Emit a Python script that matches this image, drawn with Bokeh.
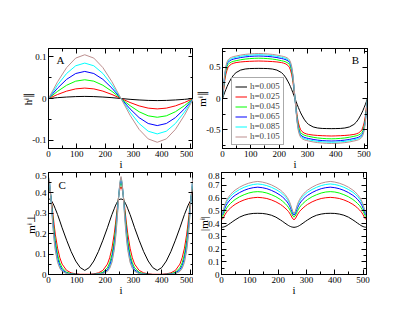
from bokeh.plotting import figure
from bokeh.layouts import column, row
from bokeh.models import LinearAxis, FixedTicker, Range1d, Label, Legend, LegendItem
from bokeh.embed import file_html
from bokeh.resources import INLINE

FONT = "Liberation Serif"
COLORS = ["#000000", "#ff0000", "#00ff00", "#0000ff", "#00ffff", "#bc8f8f"]
H_LABELS = ["h=0.005", "h=0.025", "h=0.045", "h=0.065", "h=0.085", "h=0.105"]

# ---------------- panel A: h^i_|| ----------------
i_a = [0, 32, 64, 96, 128, 160, 192, 224, 256, 288, 320, 352, 384, 416, 448, 480, 512]
a_black = [0, 0.002, 0.0035, 0.0046, 0.005, 0.0046, 0.0035, 0.002, 0, -0.002, -0.0035, -0.0046, -0.005, -0.0046, -0.0035, -0.002, 0]
a_red = [0, 0.0096, 0.0177, 0.0231, 0.025, 0.0231, 0.0177, 0.0096, 0, -0.0096, -0.0177, -0.0231, -0.025, -0.0231, -0.0177, -0.0096, 0]
a_green = [0, 0.0172, 0.0318, 0.0416, 0.045, 0.0416, 0.0318, 0.0172, 0, -0.0172, -0.0318, -0.0416, -0.045, -0.0416, -0.0318, -0.0172, 0]
a_blue = [0, 0.0249, 0.046, 0.060, 0.065, 0.060, 0.046, 0.0249, 0, -0.0249, -0.046, -0.060, -0.065, -0.060, -0.046, -0.0249, 0]
a_cyan = [0, 0.0325, 0.0601, 0.0785, 0.085, 0.0785, 0.0601, 0.0325, 0, -0.0325, -0.0601, -0.0785, -0.085, -0.0785, -0.0601, -0.0325, 0]
a_brown = [0, 0.0402, 0.0742, 0.097, 0.105, 0.097, 0.0742, 0.0402, 0, -0.0402, -0.0742, -0.097, -0.105, -0.097, -0.0742, -0.0402, 0]

# ---------------- site index for panels B, C, D ----------------
i_w = [0, 4, 8, 12, 16, 20, 24, 32, 40, 48, 64, 80, 96, 112, 128,
       144, 160, 176, 192, 208, 216, 224, 232, 236, 240, 244, 248, 252,
       256,
       260, 264, 268, 272, 276, 280, 288, 296, 304, 320, 336, 352, 368, 384,
       400, 416, 432, 448, 464, 472, 480, 488, 492, 496, 500, 504, 508, 512]

# ---------------- panel B: m^i_|| ----------------
b_black = [0, 0.050, 0.100, 0.145, 0.190, 0.230, 0.265, 0.330, 0.380, 0.415, 0.455, 0.472, 0.479, 0.481, 0.482,
           0.481, 0.479, 0.472, 0.455, 0.415, 0.380, 0.330, 0.265, 0.230, 0.190, 0.145, 0.100, 0.050,
           0,
           -0.050, -0.100, -0.145, -0.190, -0.230, -0.265, -0.330, -0.380, -0.415, -0.455, -0.472, -0.479, -0.481, -0.482,
           -0.481, -0.479, -0.472, -0.455, -0.415, -0.380, -0.330, -0.265, -0.230, -0.190, -0.145, -0.100, -0.050, 0]
b_red = [0, 0.140, 0.290, 0.390, 0.455, 0.500, 0.525, 0.552, 0.566, 0.575, 0.585, 0.591, 0.595, 0.598, 0.600,
         0.598, 0.595, 0.591, 0.585, 0.575, 0.566, 0.552, 0.525, 0.500, 0.455, 0.390, 0.290, 0.140,
         0,
         -0.140, -0.290, -0.390, -0.455, -0.500, -0.525, -0.552, -0.566, -0.575, -0.585, -0.591, -0.595, -0.598, -0.600,
         -0.598, -0.595, -0.591, -0.585, -0.575, -0.566, -0.552, -0.525, -0.500, -0.455, -0.390, -0.290, -0.140, 0]
b_green = [0, 0.180, 0.340, 0.445, 0.510, 0.545, 0.565, 0.585, 0.597, 0.605, 0.620, 0.631, 0.638, 0.643, 0.645,
           0.643, 0.638, 0.631, 0.620, 0.605, 0.597, 0.585, 0.565, 0.545, 0.510, 0.445, 0.340, 0.180,
           0,
           -0.180, -0.340, -0.445, -0.510, -0.545, -0.565, -0.585, -0.597, -0.605, -0.620, -0.631, -0.638, -0.643, -0.645,
           -0.643, -0.638, -0.631, -0.620, -0.605, -0.597, -0.585, -0.565, -0.545, -0.510, -0.445, -0.340, -0.180, 0]
b_blue = [0, 0.200, 0.370, 0.480, 0.545, 0.580, 0.600, 0.620, 0.632, 0.640, 0.655, 0.666, 0.673, 0.678, 0.680,
          0.678, 0.673, 0.666, 0.655, 0.640, 0.632, 0.620, 0.600, 0.580, 0.545, 0.480, 0.370, 0.200,
          0,
          -0.200, -0.370, -0.480, -0.545, -0.580, -0.600, -0.620, -0.632, -0.640, -0.655, -0.666, -0.673, -0.678, -0.680,
          -0.678, -0.673, -0.666, -0.655, -0.640, -0.632, -0.620, -0.600, -0.580, -0.545, -0.480, -0.370, -0.200, 0]
b_cyan = [0, 0.210, 0.385, 0.500, 0.565, 0.600, 0.620, 0.640, 0.652, 0.660, 0.675, 0.686, 0.693, 0.698, 0.700,
          0.698, 0.693, 0.686, 0.675, 0.660, 0.652, 0.640, 0.620, 0.600, 0.565, 0.500, 0.385, 0.210,
          0,
          -0.210, -0.385, -0.500, -0.565, -0.600, -0.620, -0.640, -0.652, -0.660, -0.675, -0.686, -0.693, -0.698, -0.700,
          -0.698, -0.693, -0.686, -0.675, -0.660, -0.652, -0.640, -0.620, -0.600, -0.565, -0.500, -0.385, -0.210, 0]
b_brown = [0, 0.220, 0.400, 0.520, 0.585, 0.620, 0.640, 0.660, 0.672, 0.680, 0.695, 0.706, 0.713, 0.718, 0.720,
           0.718, 0.713, 0.706, 0.695, 0.680, 0.672, 0.660, 0.640, 0.620, 0.585, 0.520, 0.400, 0.220,
           0,
           -0.220, -0.400, -0.520, -0.585, -0.620, -0.640, -0.660, -0.672, -0.680, -0.695, -0.706, -0.713, -0.718, -0.720,
           -0.718, -0.713, -0.706, -0.695, -0.680, -0.672, -0.660, -0.640, -0.620, -0.585, -0.520, -0.400, -0.220, 0]

# ---------------- panel C: m^i_perp ----------------
c_black = [0.370, 0.369, 0.365, 0.358, 0.348, 0.336, 0.322, 0.294, 0.262, 0.229, 0.168, 0.112, 0.066, 0.034, 0.020,
           0.034, 0.066, 0.112, 0.168, 0.229, 0.262, 0.294, 0.322, 0.336, 0.348, 0.358, 0.365, 0.369,
           0.370,
           0.369, 0.365, 0.358, 0.348, 0.336, 0.322, 0.294, 0.262, 0.229, 0.168, 0.112, 0.066, 0.034, 0.020,
           0.034, 0.066, 0.112, 0.168, 0.229, 0.262, 0.294, 0.322, 0.336, 0.348, 0.358, 0.365, 0.369, 0.370]
c_red = [0.430, 0.418, 0.387, 0.343, 0.292, 0.243, 0.198, 0.129, 0.082, 0.051, 0.020, 0.008, 0.003, 0.001, 0.001,
         0.001, 0.003, 0.008, 0.020, 0.051, 0.082, 0.129, 0.198, 0.243, 0.292, 0.343, 0.387, 0.418,
         0.430,
         0.418, 0.387, 0.343, 0.292, 0.243, 0.198, 0.129, 0.082, 0.051, 0.020, 0.008, 0.003, 0.001, 0.001,
         0.001, 0.003, 0.008, 0.020, 0.051, 0.082, 0.129, 0.198, 0.243, 0.292, 0.343, 0.387, 0.418, 0.430]
c_green = [0.450, 0.433, 0.388, 0.330, 0.270, 0.213, 0.166, 0.098, 0.057, 0.033, 0.011, 0.004, 0.001, 0.000, 0.000,
           0.000, 0.001, 0.004, 0.011, 0.033, 0.057, 0.098, 0.166, 0.213, 0.270, 0.330, 0.388, 0.433,
           0.450,
           0.433, 0.388, 0.330, 0.270, 0.213, 0.166, 0.098, 0.057, 0.033, 0.011, 0.004, 0.001, 0.000, 0.000,
           0.000, 0.001, 0.004, 0.011, 0.033, 0.057, 0.098, 0.166, 0.213, 0.270, 0.330, 0.388, 0.433, 0.450]
c_blue = [0.465, 0.444, 0.387, 0.319, 0.252, 0.192, 0.144, 0.079, 0.043, 0.023, 0.007, 0.002, 0.001, 0.000, 0.000,
          0.000, 0.001, 0.002, 0.007, 0.023, 0.043, 0.079, 0.144, 0.192, 0.252, 0.319, 0.387, 0.444,
          0.465,
          0.444, 0.387, 0.319, 0.252, 0.192, 0.144, 0.079, 0.043, 0.023, 0.007, 0.002, 0.001, 0.000, 0.000,
          0.000, 0.001, 0.002, 0.007, 0.023, 0.043, 0.079, 0.144, 0.192, 0.252, 0.319, 0.387, 0.444, 0.465]
c_cyan = [0.475, 0.449, 0.384, 0.308, 0.235, 0.174, 0.126, 0.066, 0.034, 0.017, 0.005, 0.001, 0.000, 0.000, 0.000,
          0.000, 0.000, 0.001, 0.005, 0.017, 0.034, 0.066, 0.126, 0.174, 0.235, 0.308, 0.384, 0.449,
          0.475,
          0.449, 0.384, 0.308, 0.235, 0.174, 0.126, 0.066, 0.034, 0.017, 0.005, 0.001, 0.000, 0.000, 0.000,
          0.000, 0.000, 0.001, 0.005, 0.017, 0.034, 0.066, 0.126, 0.174, 0.235, 0.308, 0.384, 0.449, 0.475]
c_brown = [0.480, 0.452, 0.382, 0.301, 0.226, 0.164, 0.118, 0.059, 0.030, 0.015, 0.004, 0.001, 0.000, 0.000, 0.000,
           0.000, 0.000, 0.001, 0.004, 0.015, 0.030, 0.059, 0.118, 0.164, 0.226, 0.301, 0.382, 0.452,
           0.480,
           0.452, 0.382, 0.301, 0.226, 0.164, 0.118, 0.059, 0.030, 0.015, 0.004, 0.001, 0.000, 0.000, 0.000,
           0.000, 0.000, 0.001, 0.004, 0.015, 0.030, 0.059, 0.118, 0.164, 0.226, 0.301, 0.382, 0.452, 0.480]

# ---------------- panel D: |m^i| ----------------
d_black = [0.370, 0.371, 0.373, 0.376, 0.380, 0.385, 0.391, 0.403, 0.416, 0.428, 0.450, 0.465, 0.474, 0.479, 0.480,
           0.479, 0.474, 0.465, 0.450, 0.428, 0.416, 0.403, 0.391, 0.385, 0.380, 0.376, 0.373, 0.371,
           0.370,
           0.371, 0.373, 0.376, 0.380, 0.385, 0.391, 0.403, 0.416, 0.428, 0.450, 0.465, 0.474, 0.479, 0.480,
           0.479, 0.474, 0.465, 0.450, 0.428, 0.416, 0.403, 0.391, 0.385, 0.380, 0.376, 0.373, 0.371, 0.370]
d_red = [0.430, 0.436, 0.451, 0.468, 0.483, 0.495, 0.505, 0.522, 0.537, 0.550, 0.570, 0.585, 0.596, 0.602, 0.605,
         0.602, 0.596, 0.585, 0.570, 0.550, 0.537, 0.522, 0.505, 0.495, 0.483, 0.468, 0.451, 0.436,
         0.430,
         0.436, 0.451, 0.468, 0.483, 0.495, 0.505, 0.522, 0.537, 0.550, 0.570, 0.585, 0.596, 0.602, 0.605,
         0.602, 0.596, 0.585, 0.570, 0.550, 0.537, 0.522, 0.505, 0.495, 0.483, 0.468, 0.451, 0.436, 0.430]
d_green = [0.450, 0.458, 0.476, 0.496, 0.513, 0.527, 0.539, 0.558, 0.574, 0.588, 0.610, 0.626, 0.639, 0.647, 0.650,
           0.647, 0.639, 0.626, 0.610, 0.588, 0.574, 0.558, 0.539, 0.527, 0.513, 0.496, 0.476, 0.458,
           0.450,
           0.458, 0.476, 0.496, 0.513, 0.527, 0.539, 0.558, 0.574, 0.588, 0.610, 0.626, 0.639, 0.647, 0.650,
           0.647, 0.639, 0.626, 0.610, 0.588, 0.574, 0.558, 0.539, 0.527, 0.513, 0.496, 0.476, 0.458, 0.450]
d_blue = [0.465, 0.475, 0.497, 0.520, 0.540, 0.556, 0.569, 0.590, 0.607, 0.621, 0.643, 0.660, 0.673, 0.681, 0.685,
          0.681, 0.673, 0.660, 0.643, 0.621, 0.607, 0.590, 0.569, 0.556, 0.540, 0.520, 0.497, 0.475,
          0.465,
          0.475, 0.497, 0.520, 0.540, 0.556, 0.569, 0.590, 0.607, 0.621, 0.643, 0.660, 0.673, 0.681, 0.685,
          0.681, 0.673, 0.660, 0.643, 0.621, 0.607, 0.590, 0.569, 0.556, 0.540, 0.520, 0.497, 0.475, 0.465]
d_cyan = [0.475, 0.487, 0.512, 0.538, 0.560, 0.577, 0.591, 0.613, 0.631, 0.645, 0.667, 0.684, 0.697, 0.706, 0.710,
          0.706, 0.697, 0.684, 0.667, 0.645, 0.631, 0.613, 0.591, 0.577, 0.560, 0.538, 0.512, 0.487,
          0.475,
          0.487, 0.512, 0.538, 0.560, 0.577, 0.591, 0.613, 0.631, 0.645, 0.667, 0.684, 0.697, 0.706, 0.710,
          0.706, 0.697, 0.684, 0.667, 0.645, 0.631, 0.613, 0.591, 0.577, 0.560, 0.538, 0.512, 0.487, 0.475]
d_brown = [0.480, 0.493, 0.520, 0.548, 0.572, 0.590, 0.605, 0.628, 0.647, 0.662, 0.685, 0.703, 0.716, 0.725, 0.730,
           0.725, 0.716, 0.703, 0.685, 0.662, 0.647, 0.628, 0.605, 0.590, 0.572, 0.548, 0.520, 0.493,
           0.480,
           0.493, 0.520, 0.548, 0.572, 0.590, 0.605, 0.628, 0.647, 0.662, 0.685, 0.703, 0.716, 0.725, 0.730,
           0.725, 0.716, 0.703, 0.685, 0.662, 0.647, 0.628, 0.605, 0.590, 0.572, 0.548, 0.520, 0.493, 0.480]

# ---------------- ticks ----------------
x_ticks = [0, 100, 200, 300, 400, 500]
x_minor = [0, 50, 100, 150, 200, 250, 300, 350, 400, 450, 500]
a_yticks = [-0.1, 0, 0.1]
a_ylabels = ["-0.1", "0", "0.1"]
a_yminor = [-0.1, -0.05, 0, 0.05, 0.1]
b_yticks = [-0.5, 0, 0.5]
b_ylabels = ["-0.5", "0", "0.5"]
b_yminor = [-0.75, -0.5, -0.25, 0, 0.25, 0.5, 0.75]
c_yticks = [0, 0.1, 0.2, 0.3, 0.4, 0.5]
c_ylabels = ["0", "0.1", "0.2", "0.3", "0.4", "0.5"]
c_yminor = [0, 0.05, 0.1, 0.15, 0.2, 0.25, 0.3, 0.35, 0.4, 0.45, 0.5]
d_yticks = [0, 0.1, 0.2, 0.3, 0.4, 0.5, 0.6, 0.7, 0.8]
d_ylabels = ["0", "0.1", "0.2", "0.3", "0.4", "0.5", "0.6", "0.7", "0.8"]
d_yminor = [0, 0.05, 0.1, 0.15, 0.2, 0.25, 0.3, 0.35, 0.4, 0.45, 0.5, 0.55, 0.6, 0.65, 0.7, 0.75, 0.8]


def style_axis(ax, show, dim):
    ax.axis_line_color = "black"
    ax.axis_line_width = 1
    ax.major_tick_in = 5
    ax.major_tick_out = 0
    ax.minor_tick_in = 3
    ax.minor_tick_out = 0
    ax.major_tick_line_color = "black"
    ax.minor_tick_line_color = "black"
    ax.major_label_text_font = FONT
    ax.axis_label_text_font = FONT
    ax.axis_label_text_font_style = "normal"
    ax.axis_label_text_font_size = "11px"
    ax.axis_label_text_color = "black"
    if show:
        ax.major_label_text_color = "black"
        ax.major_label_text_font_size = "9px"
        ax.major_label_standoff = 2
        ax.axis_label_standoff = -2 if dim == "x" else -5
    else:
        ax.major_label_text_color = None
        ax.major_label_text_font_size = "0px"
        ax.major_label_standoff = 0
        ax.axis_label_standoff = 0


def make_fig(yr, yt, ylab, ymin, ylabel, fh, left, right, top):
    p = figure(frame_width=145, frame_height=fh,
               x_range=Range1d(0, 512), y_range=Range1d(*yr),
               output_backend="svg", toolbar_location=None,
               min_border_left=left, min_border_right=right,
               min_border_top=top, min_border_bottom=0)
    p.xgrid.visible = False
    p.ygrid.visible = False
    p.outline_line_color = "black"
    p.outline_line_width = 1
    p.background_fill_color = "white"
    p.border_fill_color = "white"
    xa = p.xaxis[0]
    xa.ticker = FixedTicker(ticks=x_ticks, minor_ticks=x_minor)
    xa.axis_label = "i"
    style_axis(xa, True, "x")
    ya = p.yaxis[0]
    ya.ticker = FixedTicker(ticks=yt, minor_ticks=ymin)
    ya.axis_label = ylabel
    ya.major_label_overrides = {v: s for v, s in zip(yt, ylab)}
    style_axis(ya, True, "y")
    top_ax = LinearAxis(ticker=FixedTicker(ticks=x_ticks, minor_ticks=x_minor))
    style_axis(top_ax, False, "x")
    p.add_layout(top_ax, "above")
    right_ax = LinearAxis(ticker=FixedTicker(ticks=yt, minor_ticks=ymin))
    style_axis(right_ax, False, "y")
    p.add_layout(right_ax, "right")
    return p


pA = make_fig((-0.12, 0.12), a_yticks, a_ylabels, a_yminor, "hⁱ∥", 100, 48, 0, 48)
for ys, c in zip([a_black, a_red, a_green, a_blue, a_cyan, a_brown], COLORS):
    pA.line(i_a, ys, line_color=c, line_width=1)
pA.add_layout(Label(x=28, y=0.12, y_offset=-5, text="A", text_baseline="top",
                    text_font=FONT, text_font_size="11px", text_color="black"))

pB = make_fig((-0.8, 0.8), b_yticks, b_ylabels, b_yminor, "mⁱ∥", 100, 28, 12, 48)
rB = []
for ys, c in zip([b_black, b_red, b_green, b_blue, b_cyan, b_brown], COLORS):
    rB.append(pB.line(i_w, ys, line_color=c, line_width=1))
pB.add_layout(Label(x=482, y=0.8, y_offset=-5, text="B", text_baseline="top", text_align="right",
                    text_font=FONT, text_font_size="11px", text_color="black"))
legend = Legend(items=[LegendItem(label=l, renderers=[r]) for l, r in zip(H_LABELS, rB)],
                location=(9, 3), label_text_font=FONT, label_text_font_size="9px",
                glyph_height=9, glyph_width=12, label_height=9, spacing=0, padding=3,
                margin=0, label_standoff=3, border_line_color="#555555", border_line_width=1,
                background_fill_color="white", background_fill_alpha=1)
pB.add_layout(legend)

pC = make_fig((0, 0.5), c_yticks, c_ylabels, c_yminor, "mⁱ⊥", 102, 48, 0, 0)
for ys, c in zip([c_black, c_red, c_green, c_blue, c_cyan, c_brown], COLORS):
    pC.line(i_w, ys, line_color=c, line_width=1)
pC.add_layout(Label(x=35, y=0.5, y_offset=-6, text="C", text_baseline="top",
                    text_font=FONT, text_font_size="11px", text_color="black"))

pD = make_fig((0, 0.8), d_yticks, d_ylabels, d_yminor, "|mⁱ|", 102, 28, 12, 0)
for ys, c in zip([d_black, d_red, d_green, d_blue, d_cyan, d_brown], COLORS):
    pD.line(i_w, ys, line_color=c, line_width=1)

layout = column(row(pA, pB), row(pC, pD))

with open("out.html", "w") as f:
    f.write(file_html(layout, INLINE))
